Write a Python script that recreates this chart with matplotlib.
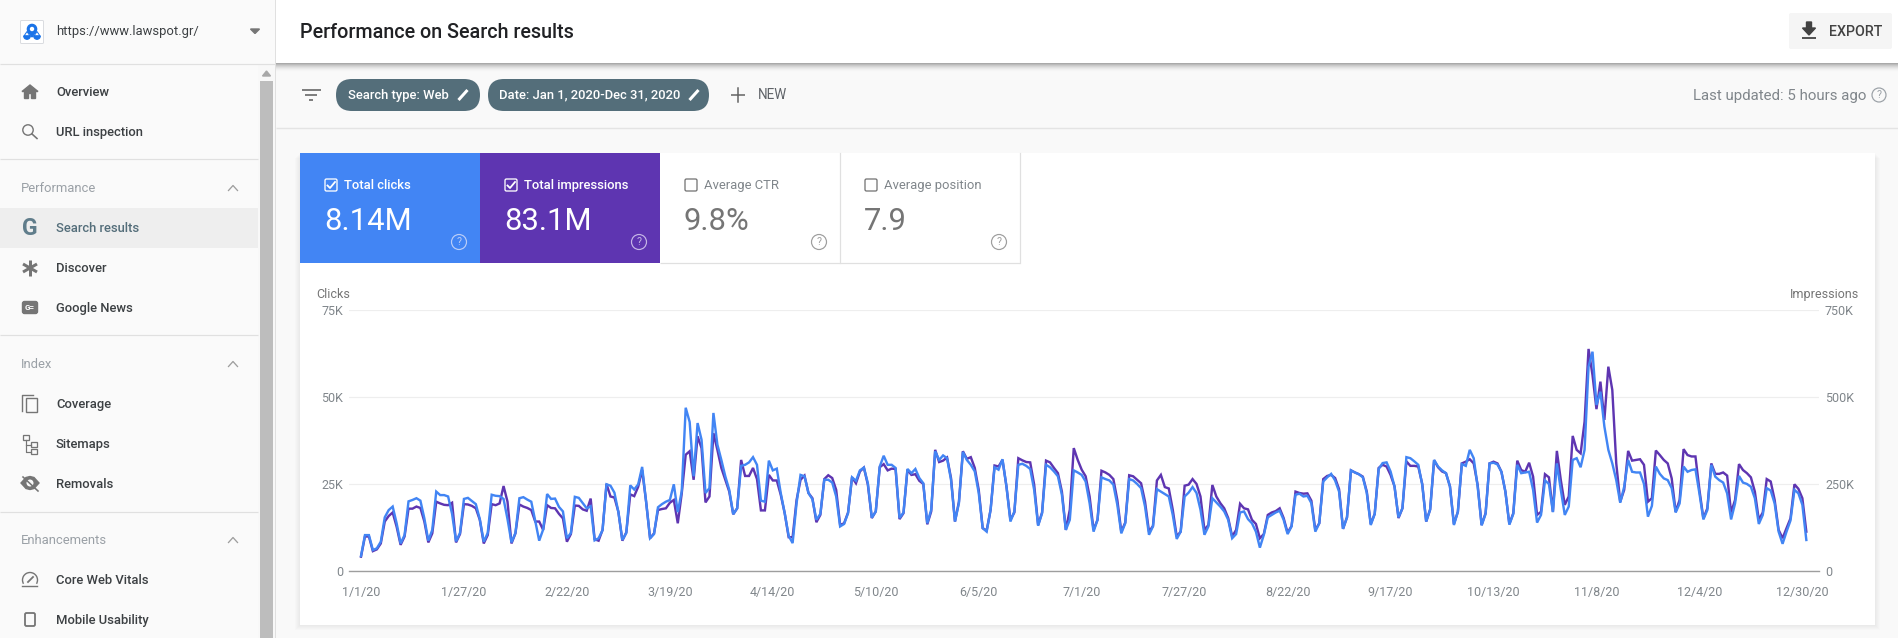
import numpy as np
import pandas as pd
import matplotlib
matplotlib.use("Agg")
import matplotlib.pyplot as plt
from matplotlib.patches import Rectangle, FancyBboxPatch, Circle, Polygon, Wedge, Arc

W, H = 1899, 638
plt.rcParams["font.family"] = ["Roboto", "DejaVu Sans"]

# daily clicks, in thousands (Jan 1 - Dec 31, rows start on Saturdays)
clicks_k = [
    4.4, 10.4, 10.4,
    6.1, 6.6, 8.5, 15.5, 17.6, 18.6, 13.8,
    8.0, 10.4, 20.1, 20.5, 21.0, 20.3, 15.2,
    8.8, 11.9, 22.9, 21.9, 21.9, 21.5, 16.5,
    8.6, 11.0, 20.8, 21.1, 20.2, 19.3, 15.0,
    8.5, 11.0, 22.0, 21.7, 21.6, 20.8, 15.0,
    8.3, 11.0, 21.0, 21.3, 20.6, 20.0, 14.5,
    8.8, 12.0, 22.2, 20.8, 20.9, 18.5, 17.2,
    9.5, 11.0, 21.4, 21.1, 19.6, 18.1, 18.7,
    8.9, 9.5, 11.8, 25.0, 24.6, 22.6, 17.0,
    9.0, 11.0, 24.7, 23.5, 25.0, 30.0, 20.0,
    9.5, 10.7, 18.4, 19.3, 20.0, 20.5, 25.0,
    17.0, 23.0, 47.0, 42.9, 27.3, 42.6, 37.8,
    22.5, 23.9, 45.5, 36.4, 32.0, 27.3, 23.4,
    16.4, 18.1, 30.3, 30.6, 31.3, 32.8, 30.6,
    20.3, 20.0, 31.8, 29.0, 29.5, 22.5, 16.7,
    10.2, 8.1, 19.6, 27.7, 27.3, 22.5, 20.7,
    14.8, 16.5, 26.3, 26.3, 25.5, 21.5, 12.9,
    13.6, 16.7, 27.0, 26.0, 29.0, 29.8, 25.3,
    15.4, 17.2, 30.1, 33.2, 30.6, 30.6, 29.7,
    15.3, 16.9, 29.4, 28.2, 29.4, 26.8, 25.3,
    13.8, 17.7, 34.5, 32.0, 33.3, 32.5, 26.3,
    14.3, 19.6, 34.3, 32.0, 30.6, 28.7, 22.5,
    12.4, 11.4, 17.7, 29.9, 29.2, 32.2, 24.4,
    14.3, 17.2, 30.6, 30.9, 30.3, 29.4, 23.4,
    13.1, 16.7, 30.6, 29.9, 28.7, 27.3, 22.0,
    11.9, 14.8, 29.0, 28.4, 27.7, 25.8, 19.6,
    11.4, 14.8, 27.0, 26.5, 26.1, 24.9, 19.1,
    10.9, 13.8, 26.5, 26.1, 25.1, 23.9, 18.6,
    10.5, 12.9, 23.6, 22.9, 22.2, 21.5, 16.2,
    9.3, 11.4, 21.5, 22.6, 24.2, 22.5, 17.7,
    10.5, 12.9, 21.0, 19.8, 18.6, 17.2, 14.8,
    9.5, 10.7, 16.9, 17.2, 15.0, 13.8, 11.4,
    6.8, 10.5, 15.5, 16.2, 16.9, 17.4, 14.8,
    10.7, 12.9, 22.0, 22.3, 21.5, 21.7, 19.6,
    11.4, 13.8, 25.8, 27.0, 28.0, 26.1, 22.9,
    12.2, 15.5, 29.0, 28.4, 27.9, 27.0, 22.5,
    13.3, 16.5, 29.4, 31.1, 31.3, 28.7, 24.4,
    15.5, 18.1, 32.8, 32.5, 31.6, 30.6, 24.9,
    14.3, 17.7, 32.0, 30.1, 29.0, 28.2, 24.4,
    13.3, 17.1, 30.8, 30.3, 34.9, 32.5, 24.3,
    13.2, 16.5, 31.0, 31.2, 30.7, 28.6, 22.9,
    13.4, 16.5, 30.6, 28.2, 28.4, 28.6, 23.4,
    14.0, 16.2, 26.1, 25.1, 17.0, 31.0, 23.4,
    16.2, 18.6, 32.0, 32.5, 29.9, 34.9, 58.8,
    63.1, 47.8, 51.6, 41.6, 34.9, 31.0, 26.2,
    19.7, 24.3, 32.0, 28.6, 28.4, 28.4, 25.1,
    15.7, 18.8, 30.1, 28.0, 26.7, 26.2, 23.9,
    16.9, 19.5, 30.1, 28.6, 29.1, 29.3, 22.4,
    14.9, 17.6, 30.6, 27.2, 26.2, 25.5, 22.4,
    14.9, 19.5, 27.4, 25.5, 25.1, 24.3, 21.0,
    13.6, 16.2, 23.9, 23.2, 19.5, 11.4, 7.9,
    11.4, 14.6, 23.4, 22.4, 19.1, 9.0,
]

# daily impressions, in units of ten thousand
impressions_10k = [
    4.2, 10.0, 10.0,
    5.8, 6.3, 8.0, 14.3, 15.9, 16.9, 12.8,
    7.6, 10.0, 18.0, 18.0, 18.6, 18.2, 14.3,
    8.3, 10.9, 20.0, 19.5, 19.1, 19.0, 19.7,
    8.3, 10.7, 19.3, 19.2, 18.8, 18.1, 14.8,
    8.0, 10.4, 19.3, 19.0, 19.5, 24.5, 20.0,
    8.0, 10.9, 19.2, 18.6, 18.2, 17.6, 14.3,
    14.3, 11.9, 19.0, 18.2, 18.1, 16.5, 15.2,
    8.5, 10.7, 18.9, 18.8, 17.8, 17.4, 20.9,
    9.2, 8.8, 11.9, 25.1, 21.5, 21.2, 17.1,
    8.8, 11.2, 22.1, 21.6, 24.3, 29.1, 20.0,
    9.5, 10.9, 17.6, 17.9, 18.1, 19.7, 20.5,
    13.8, 22.4, 33.5, 34.5, 26.3, 38.8, 35.4,
    19.8, 21.5, 39.7, 34.9, 29.7, 26.3, 22.9,
    16.4, 18.1, 32.0, 27.4, 27.4, 29.7, 26.5,
    17.5, 17.5, 27.7, 26.1, 26.1, 22.0, 16.7,
    9.8, 9.8, 20.5, 26.3, 27.5, 22.5, 21.0,
    14.1, 16.2, 26.5, 27.6, 26.8, 23.4, 13.3,
    13.8, 16.9, 27.0, 25.3, 28.7, 29.8, 24.9,
    15.3, 17.2, 29.9, 30.8, 29.0, 29.5, 29.4,
    15.0, 16.7, 29.2, 27.7, 27.9, 26.0, 25.1,
    13.5, 17.2, 34.9, 31.4, 31.8, 32.7, 26.8,
    14.3, 20.0, 34.5, 32.3, 32.8, 29.7, 23.4,
    12.4, 11.7, 17.7, 30.4, 30.1, 32.0, 24.4,
    14.8, 16.9, 32.5, 31.9, 31.4, 31.3, 24.9,
    13.3, 16.9, 31.8, 31.3, 29.7, 28.2, 22.9,
    11.9, 17.7, 35.4, 32.0, 29.2, 27.3, 21.5,
    11.9, 14.8, 28.9, 28.4, 27.7, 26.5, 20.5,
    11.4, 14.0, 27.6, 27.3, 26.3, 25.3, 20.0,
    11.4, 13.0, 26.1, 27.7, 24.2, 23.8, 17.7,
    10.0, 11.4, 24.6, 24.9, 26.5, 25.1, 21.5,
    11.9, 13.3, 24.8, 21.5, 19.6, 18.1, 15.3,
    10.0, 11.9, 19.4, 18.1, 17.8, 14.8, 13.6,
    9.5, 10.7, 16.2, 16.9, 17.3, 18.1, 15.3,
    11.1, 13.0, 22.9, 22.5, 22.3, 22.4, 20.3,
    11.9, 13.8, 26.5, 27.4, 27.7, 26.8, 23.6,
    12.2, 15.5, 29.0, 28.4, 27.9, 27.2, 22.9,
    13.6, 16.5, 29.7, 30.6, 30.1, 27.7, 24.4,
    15.3, 18.1, 31.6, 30.3, 30.3, 30.1, 25.1,
    14.3, 17.8, 31.9, 29.9, 28.7, 28.2, 24.4,
    13.6, 17.1, 31.0, 31.5, 32.2, 31.0, 24.8,
    13.3, 16.7, 31.0, 31.5, 31.0, 28.6, 22.9,
    13.6, 16.7, 31.8, 29.1, 28.6, 31.2, 27.2,
    16.2, 17.1, 27.9, 27.0, 17.1, 34.6, 26.2,
    19.1, 21.5, 38.9, 34.9, 33.9, 43.0, 63.9,
    56.4, 46.6, 54.5, 43.5, 58.8, 52.1, 31.0,
    20.0, 23.4, 34.6, 31.8, 32.0, 32.2, 30.6,
    20.0, 21.0, 34.7, 33.4, 32.0, 31.0, 26.7,
    17.1, 20.5, 35.1, 33.4, 33.0, 33.0, 23.4,
    15.2, 18.1, 31.0, 28.0, 28.0, 28.4, 27.5,
    16.9, 20.5, 30.8, 29.1, 28.2, 27.0, 22.9,
    14.8, 16.9, 26.5, 25.8, 20.5, 11.9, 9.5,
    12.4, 15.2, 25.0, 23.7, 21.0, 11.4,
]

date_labels = ["1/1/20", "1/27/20", "2/22/20", "3/19/20", "4/14/20", "5/10/20", "6/5/20", "7/1/20",
               "7/27/20", "8/22/20", "9/17/20", "10/13/20", "11/8/20", "12/4/20", "12/30/20"]
clicks_ticks = [0, 25, 50, 75]
clicks_tick_labels = ["0", "25K", "50K", "75K"]
impr_ticks = [0, 250, 500, 750]
impr_tick_labels = ["0", "250K", "500K", "750K"]

nav_items = [("Overview", 91.5), ("URL inspection", 131.5), ("Search results", 227), ("Discover", 267),
             ("Google News", 307), ("Coverage", 403), ("Sitemaps", 443), ("Removals", 483),
             ("Core Web Vitals", 579), ("Mobile Usability", 619)]
nav_sections = [("Performance", 187), ("Index", 363), ("Enhancements", 539)]
tiles = [("Total clicks", "8.14M", 300, "#4285f4", True), ("Total impressions", "83.1M", 480, "#5e35b1", True),
         ("Average CTR", "9.8%", 660, "#ffffff", False), ("Average position", "7.9", 840, "#ffffff", False)]

BLUE, PURPLE = "#4285f4", "#5e35b1"
NAV_TXT, ICON = "#3c4043", "#757575"


def px(size):
    return size * 0.72


fig = plt.figure(figsize=(W / 100, H / 100), dpi=100, facecolor="#fafafa")
ui = fig.add_axes([0, 0, 1, 1], zorder=0)
ui.set_xlim(0, W)
ui.set_ylim(H, 0)
ui.axis("off")


def rect(x0, y0, x1, y1, color, z=1, **kw):
    ui.add_patch(Rectangle((x0, y0), x1 - x0, y1 - y0, facecolor=color, edgecolor="none", zorder=z, **kw))


def hline(x0, x1, y, color="#e0e0e0", lw=1.0, z=2):
    ui.plot([x0, x1], [y, y], color=color, lw=px(lw), zorder=z, solid_capstyle="butt")


def label(x, y, s, size=13, color=NAV_TXT, ha="left", weight="normal", z=5):
    # browser text sits a little lower than matplotlib's centre
    ui.text(x, y + 1.2, s, fontsize=px(size), color=color, ha=ha, va="center", fontweight=weight, zorder=z)


def help_icon(x, y, color="#9e9e9e", r=7):
    ui.add_patch(Circle((x, y), r, facecolor="none", edgecolor=color, lw=px(1.2), zorder=6))
    ui.text(x, y + 0.3, "?", fontsize=px(10.5), color=color, ha="center", va="center", zorder=6)


def checkbox(x, y, color, checked):
    ui.add_patch(FancyBboxPatch((x + 1, y + 1), 12, 12, boxstyle="round,pad=0,rounding_size=1.5",
                                facecolor="none", edgecolor=color, lw=px(1.3), zorder=6))
    if checked:
        ui.plot([x + 3.5, x + 6, x + 11], [y + 7.5, y + 10, y + 4], color=color, lw=px(1.8), zorder=6)


def pencil(x, y, color="white"):
    ui.plot([x - 4.5, x + 4.5], [y + 5, y - 5], color=color, lw=px(3), zorder=6, solid_capstyle="butt")


def chevron(x, y):
    ui.plot([x - 4.5, x, x + 4.5], [y + 2.5, y - 2.5, y + 2.5], color="#9e9e9e", lw=px(1.3), zorder=5)


# page backgrounds
rect(276, 0, W, H, "#f9f9f9", z=0)
for i in range(9):
    rect(276, 63 + i, W, 64 + i, "#000000", z=1, alpha=0.32 * (1 - i / 9) ** 2)
rect(276, 0, W, 63, "#ffffff", z=2)
hline(276, W, 128, "#e4e4e4", 1.4)
ui.plot([275.5, 275.5], [0, H], color="#e0e0e0", lw=px(1), zorder=3)

# sidebar
hline(0, 275, 63.5, "#e0e0e0", 1.2)
hline(0, 258, 159, "#e0e0e0", 1.2)
hline(0, 258, 335, "#e0e0e0", 1.2)
hline(0, 258, 512, "#e0e0e0", 1.2)
rect(0, 208, 258, 248, "#eeeeee")
rect(258, 64, 275, H, "#f8f8f8")
rect(260, 81, 273, H, "#bdbdbd", z=2)
ui.add_patch(Polygon([[262.5, 76], [270.5, 76], [266.5, 71]], color="#a8a8a8", zorder=3))

ui.add_patch(FancyBboxPatch((20.5, 20.5), 23, 23, boxstyle="round,pad=0,rounding_size=1", facecolor="white",
                            edgecolor="#dadce0", lw=px(1), zorder=3))
ui.add_patch(Circle((32, 29), 4.6, color="#1a73e8", zorder=4))
ui.add_patch(Polygon([[27.8, 31], [36.2, 31], [32, 37]], color="#1a73e8", zorder=4))
ui.add_patch(Circle((32, 29), 1.5, color="white", zorder=4))
for cx in (27, 37):
    ui.add_patch(Polygon([[cx - 3, 36], [cx + 3, 36], [cx, 31.5]], facecolor="none", edgecolor="#1a73e8",
                         lw=px(1), zorder=4))
    ui.add_patch(Wedge((cx, 36), 3.2, 0, 180, color="#1a73e8", zorder=4))
label(56, 30.5, "https://www.lawspot.gr/", 13, "#3c4043")
ui.add_patch(Polygon([[250.5, 29], [259.5, 29], [255, 33.5]], color="#757575", zorder=4))

for name, y in nav_items:
    label(56, y, name, 13, "#546e7a" if name == "Search results" else NAV_TXT, weight="medium")
for name, y in nav_sections:
    label(20.5, y, name, 13, "#9aa0a6")
    chevron(233, y + 1)

# sidebar icons
ui.add_patch(Polygon([[22, 91.5], [30, 85], [38, 91.5], [35.5, 91.5], [35.5, 98.5], [31.5, 98.5], [31.5, 93.5],
                      [28.5, 93.5], [28.5, 98.5], [24.5, 98.5], [24.5, 91.5]], color=ICON, zorder=4))
ui.add_patch(Circle((28, 130), 5.2, facecolor="none", edgecolor=ICON, lw=px(1.4), zorder=4))
ui.plot([32, 37], [134, 138.5], color=ICON, lw=px(1.6), zorder=4)
label(30, 227, "G", 23, "#607d8b", ha="center", weight="bold")
for dx, dy in [(0, 8), (7, 4), (7, -4)]:
    ui.plot([30 - dx, 30 + dx], [268 - dy, 268 + dy], color=ICON, lw=px(3), zorder=4, solid_capstyle="butt")
ui.add_patch(FancyBboxPatch((22.5, 301.5), 15, 12, boxstyle="round,pad=0,rounding_size=2", color=ICON, zorder=4))
label(30, 306.5, "G=", 8, "white", ha="center", weight="bold")
ui.add_patch(Rectangle((26, 398), 11, 14, facecolor="none", edgecolor=ICON, lw=px(1.4), zorder=4))
ui.plot([22.5, 22.5, 33], [411, 395, 395], color=ICON, lw=px(1.4), zorder=4)
for bx, by in [(23, 435), (31, 442), (31, 449)]:
    ui.add_patch(Rectangle((bx, by), 6, 5, facecolor="none", edgecolor=ICON, lw=px(1.3), zorder=4))
ui.plot([26, 26, 31], [440, 452, 452], color=ICON, lw=px(1.2), zorder=4)
ui.plot([26, 31], [445, 445], color=ICON, lw=px(1.2), zorder=4)
ui.add_patch(Polygon([[21, 483], [26, 477.5], [30, 476.5], [34, 477.5], [39, 483], [34, 488.5], [30, 489.5],
                      [26, 488.5]], color=ICON, zorder=4))
ui.add_patch(Circle((30, 483), 2.8, color="#fafafa", zorder=4))
ui.plot([23, 38], [477, 491], color=ICON, lw=px(1.6), zorder=5)
ui.add_patch(Arc((30, 580), 15, 15, theta1=150, theta2=390, edgecolor=ICON, lw=px(1.4), zorder=4))
ui.plot([22.5, 37.5], [586, 586], color=ICON, lw=px(1.4), zorder=4)
ui.plot([28, 33], [582, 577], color=ICON, lw=px(1.8), zorder=4)
ui.add_patch(FancyBboxPatch((25, 613), 10, 13, boxstyle="round,pad=0,rounding_size=1.5", facecolor="none",
                            edgecolor=ICON, lw=px(1.8), zorder=4))

# top bar
label(300, 31, "Performance on Search results", 19.8, "#202124", weight="medium", z=6)
ui.add_patch(FancyBboxPatch((1789, 13), 103, 36, boxstyle="round,pad=0,rounding_size=2", facecolor="#f5f5f5",
                            edgecolor="none", zorder=3))
ui.add_patch(Polygon([[1806.5, 22], [1811.5, 22], [1811.5, 28], [1815.5, 28], [1809, 35], [1802.5, 28], [1806.5, 28]],
                     color="#424242", zorder=4))
hline(1802, 1816, 38, "#424242", 1.8, z=4)
label(1829, 30.5, "EXPORT", 14.2, "#424242", weight="medium", z=5)

# filter row
for (x0, x1, y) in [(302, 321, 90), (305.5, 317.5, 95), (309.5, 313.5, 100)]:
    hline(x0, x1, y, "#616161", 1.6, z=4)
for x0, x1, s, tx, pen in [(336, 480, "Search type: Web", 348, 463), (488, 709, "Date: Jan 1, 2020-Dec 31, 2020", 499, 694)]:
    ui.add_patch(FancyBboxPatch((x0, 79), x1 - x0, 32, boxstyle="round,pad=0,rounding_size=16", facecolor="#546e7a",
                                edgecolor="none", zorder=3))
    label(tx, 94, s, 13, "white", weight="medium")
    pencil(pen, 95)
ui.plot([738, 738], [88, 102], color="#616161", lw=px(1.5), zorder=4)
hline(731, 745, 95, "#616161", 1.5, z=4)
label(758, 94, "NEW", 13.5, "#5f6368")
label(1866, 94.5, "Last updated: 5 hours ago", 15, "#80868b", ha="right")
help_icon(1879, 95, "#9aa0a6", 7)

# card
for i in range(1, 6):
    rect(300 - i, 153 + i, 1875 + i, 625 + i, "#000000", z=1, alpha=0.012)
rect(300, 153, 1875, 625, "#ffffff", z=2)
hline(660, 1020, 263, "#e0e0e0", 1.2, z=3)
for x in (840, 1020):
    ui.plot([x, x], [153, 263], color="#e0e0e0", lw=px(1.2), zorder=3)
for name, value, x0, color, active in tiles:
    fg = "white" if active else "#757575"
    if active:
        rect(x0, 153, x0 + 180, 263, color, z=3)
    checkbox(x0 + 24, 178, fg, active)
    label(x0 + 44.5, 184.5, name, 13, fg if active else "#80868b", weight="medium" if active else "normal")
    label(x0 + 24, 220.5, value, 31, fg, z=6)
    help_icon(x0 + 159, 242, "#b9cdf8" if name == "Total clicks" else ("#c5b5e6" if active else "#9e9e9e"), 7.5)

label(316, 293, "Clicks", 12.5, "#757575")
label(1859, 293, "Impressions", 12.5, "#757575", ha="right")

# chart
dates = pd.date_range("2020-01-01", periods=len(clicks_k), freq="D")
tick_dates = pd.to_datetime(date_labels, format="%m/%d/%y")
impressions_k = np.array(impressions_10k) * 10

x0_px, x1_px, y_top, y_bot = 349, 1819, 310.3, 571.3
ax = fig.add_axes([x0_px / W, 1 - y_bot / H, (x1_px - x0_px) / W, (y_bot - y_top) / H], zorder=3)
ax.patch.set_alpha(0)
ax2 = ax.twinx()
ax2.patch.set_alpha(0)
ax.set_zorder(3)
ax2.set_zorder(2)

ax2.plot(dates, impressions_k, color=PURPLE, lw=px(2.4), solid_joinstyle="miter")
ax.plot(dates, clicks_k, color=BLUE, lw=px(2.4), solid_joinstyle="miter")

ax.set_xlim(dates[0] - pd.Timedelta(days=3.03), dates[0] + pd.Timedelta(days=368.2))
ax.set_ylim(0, 75)
ax2.set_ylim(0, 750)
ax.set_xticks(tick_dates)
ax.set_xticklabels(date_labels)
ax.set_yticks(clicks_ticks)
ax.set_yticklabels(clicks_tick_labels)
ax2.set_yticks(impr_ticks)
ax2.set_yticklabels(impr_tick_labels)
ax2.grid(axis="y", color="#eeeeee", lw=px(1.2))
ax2.set_axisbelow(True)

for a in (ax, ax2):
    for side in ("left", "right", "top"):
        a.spines[side].set_visible(False)
    a.spines["bottom"].set_color("#9e9e9e")
    a.spines["bottom"].set_linewidth(px(1.2))
    a.tick_params(axis="both", length=0, labelsize=px(12.5), labelcolor="#80868b")
ax.tick_params(axis="y", pad=px(6))
ax2.tick_params(axis="y", pad=px(6))
ax.tick_params(axis="x", pad=px(15))

fig.savefig("out.png", dpi=100)
